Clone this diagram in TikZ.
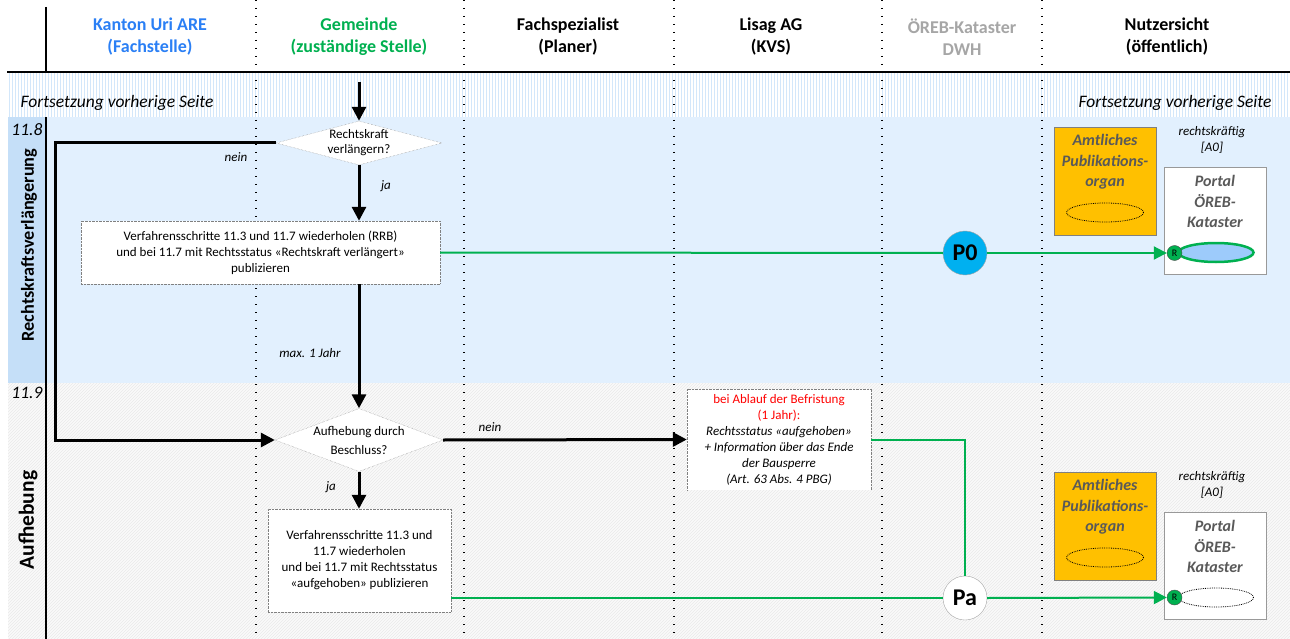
\documentclass[tikz,border=0pt]{standalone}
\usepackage{fontspec}
\setmainfont{Carlito}
\usetikzlibrary{shapes.geometric,arrows.meta,patterns}
\definecolor{kantonblau}{HTML}{2A7FF5}
\definecolor{gemeindegruen}{HTML}{00B050}
\definecolor{dwhgrau}{HTML}{A6A6A6}
\definecolor{laufblau}{HTML}{E2F0FE}
\definecolor{kopfblau}{HTML}{C5DFF8}
\definecolor{streifblau}{HTML}{D3E7FA}
\definecolor{aufgrau}{HTML}{FAFAFA}
\definecolor{schraffgrau}{HTML}{EAEAEA}
\definecolor{pubgruen}{HTML}{00B050}
\definecolor{organorange}{HTML}{FFC000}
\definecolor{pnullblau}{HTML}{00B0F0}
\definecolor{ovalblau}{HTML}{9DCBFB}
\definecolor{portalgrau}{HTML}{595959}
\definecolor{rotschrift}{HTML}{FF0000}

\begin{document}
\begin{tikzpicture}[x=1pt,y=-1pt,
  kopf/.style={font=\fontsize{18}{22}\selectfont\bfseries,align=center},
  bahn/.style={line width=1.3pt,dash pattern=on 1.3pt off 6.7pt},
  ablauf/.style={line width=3pt,-{Triangle[length=14pt,width=14pt]}},
  publik/.style={line width=2pt,draw=pubgruen},
  frage/.style={diamond,draw=gray,densely dotted,fill=white,inner sep=0pt,align=center},
  schritt/.style={draw=gray,densely dotted,fill=white,inner sep=0pt,align=center,font=\fontsize{13}{16}\selectfont},
  klein/.style={font=\fontsize{13}{16}\selectfont\itshape,align=center},
  organ/.style={draw=gray,fill=organorange,minimum width=102pt,minimum height=108pt},
  portal/.style={draw=gray!80,fill=white,minimum width=102pt,minimum height=107pt},
  kastentext/.style={font=\fontsize{16}{20.5}\selectfont\bfseries\itshape,text=portalgrau,align=center},
  punktoval/.style={ellipse,draw,densely dotted,line width=0.8pt,inner sep=0pt},
  rkreis/.style={circle,draw=black!70,fill=pubgruen,minimum size=15pt,inner sep=0pt,font=\fontsize{10}{10}\selectfont},
  pkreis/.style={circle,draw=gray!70,minimum size=44pt,inner sep=0pt,font=\fontsize{24}{24}\selectfont\bfseries},
  fort/.style={font=\fontsize{17.5}{18}\selectfont\itshape}
]
\useasboundingbox (0,0) rectangle (1290,639);
\fill[white] (0,0) rectangle (1290,639);
\fill[pattern=vertical lines,pattern color=streifblau] (8,73) rectangle (1290,117);
\fill[laufblau] (46,117) rectangle (1290,383);
\fill[kopfblau] (8,117) rectangle (46,383);
\fill[aufgrau] (8,383) rectangle (1290,639);
\fill[pattern=north east lines,pattern color=schraffgrau] (8,383) rectangle (1290,639);
\foreach \x in {256,464,674,882,1042}
  \draw[bahn] (\x,0) -- (\x,639);
\draw[line width=2.5pt] (7,72) -- (1290,72);
\draw[line width=1.5pt] (46,7) -- (46,72);
\draw[line width=1.5pt] (46,117) -- (46,639);

\node[kopf,text=kantonblau] (kanton) at (150,37) {Kanton Uri ARE\\(Fachstelle)};
\node[kopf,text=gemeindegruen] (gemeinde) at (359,37) {Gemeinde\\(zuständige Stelle)};
\node[kopf] (fachspez) at (568,37) {Fachspezialist\\(Planer)};
\node[kopf] (lisag) at (771,37) {Lisag AG\\(KVS)};
\node[kopf,text=dwhgrau] (dwh) at (962,37) {ÖREB-Kataster\\DWH};
\node[kopf] (nutzer) at (1167,37) {Nutzersicht\\(öffentlich)};

\node[fort] (fortlinks) at (117,103) {Fortsetzung vorherige Seite};
\node[fort] (fortrechts) at (1175,103) {Fortsetzung vorherige Seite};
\node[fort] (nr118) at (27,130) {11.8};
\node[fort] (nr119) at (27,393) {11.9};
\node[rotate=90,font=\fontsize{18.3}{20}\selectfont\bfseries] (rkv) at (29,245) {Rechtskraftsverlängerung};
\node[rotate=90,font=\fontsize{21.5}{24}\selectfont\bfseries] (aufh) at (28,520) {Aufhebung};

\node[frage,aspect=3.77,minimum width=166pt,minimum height=44pt,font=\fontsize{13}{15}\selectfont] (verl) at (359,143) {Rechtskraft\\verlängern?};
\node[schritt,minimum width=359pt,minimum height=63pt] (rrb) at (260.5,252.5) {Verfahrensschritte 11.3 und 11.7 wiederholen (RRB)\\und bei 11.7 mit Rechtsstatus «Rechtskraft verlängert»\\publizieren};
\node[frage,aspect=2.67,minimum width=168pt,minimum height=63pt,font=\fontsize{13}{19}\selectfont] (beschl) at (359,440) {Aufhebung durch\\Beschluss?};
\node[schritt,draw=none,minimum width=184pt,minimum height=101pt] (ablauf) at (779,439.5) {\textcolor{rotschrift}{bei Ablauf der Befristung}\\\textcolor{rotschrift}{(1 Jahr):}\\\textit{Rechtsstatus «aufgehoben»}\\\textit{+ Information über das Ende}\\\textit{der Bausperre}\\\textit{(Art. 63 Abs. 4 PBG)}};
\draw[gray,densely dotted] (ablauf.south west) -- (ablauf.north west) -- (ablauf.north east) -- (ablauf.south east);
\node[schritt,minimum width=183pt,minimum height=103pt] (aufgeh) at (359.5,560.5) {Verfahrensschritte 11.3 und\\11.7 wiederholen\\und bei 11.7 mit Rechtsstatus\\«aufgehoben» publizieren};

\node[klein] (nein1) at (236,157) {nein};
\node[klein] (ja1) at (386,186) {ja};
\node[klein] (maxjahr) at (310,353) {max. 1 Jahr};
\node[klein] (nein2) at (490,427) {nein};
\node[klein] (ja2) at (331,487) {ja};

\node[pkreis,fill=pnullblau] (pnull) at (965,253) {P0};
\node[pkreis,fill=white] (pa) at (965,598) {Pa};

\node[organ] (organ1) at (1105,181) {};
\node[kastentext] (organtext1) at (1105,162) {Amtliches\\Publikations-\\organ};
\node[punktoval,minimum width=77pt,minimum height=19pt] (organoval1) at (1105,212.5) {};
\node[klein] (rk1) at (1212,140) {rechtskräftig\\{[A0]}};
\node[portal] (portal1) at (1215,220.5) {};
\node[kastentext] (portaltext1) at (1215,201.5) {Portal\\ÖREB-\\Kataster};
\node[ellipse,draw=pubgruen,line width=2.5pt,fill=ovalblau,minimum width=75pt,minimum height=19pt,inner sep=0pt] (oval1) at (1216,252.5) {};
\node[rkreis] (r1) at (1174.5,253) {R};

\node[organ] (organ2) at (1105,526) {};
\node[kastentext] (organtext2) at (1105,507) {Amtliches\\Publikations-\\organ};
\node[punktoval,minimum width=77pt,minimum height=19pt] (organoval2) at (1105,557.5) {};
\node[klein] (rk2) at (1212,485) {rechtskräftig\\{[A0]}};
\node[portal] (portal2) at (1215,565.5) {};
\node[kastentext] (portaltext2) at (1215,546.5) {Portal\\ÖREB-\\Kataster};
\node[punktoval,fill=white,minimum width=75pt,minimum height=19pt] (oval2) at (1216,597.5) {};
\node[rkreis] (r2) at (1174.5,597.5) {R};

\coordinate (start) at (359,82);
\coordinate (schlaufe) at (55,143);
\draw[ablauf] (start) -- (verl.north);
\draw[ablauf] (verl.south) -- (verl.south |- rrb.north);
\draw[ablauf] (verl.south |- rrb.south) -- (beschl.north);
\draw[ablauf] (verl.west) -- (schlaufe) |- (beschl.west);
\draw[ablauf] (beschl.east) -- (ablauf.west);
\draw[ablauf] (beschl.south) -- (beschl.south |- aufgeh.north);

\draw[publik] (rrb.east) -- (pnull.west);
\draw[publik,-{Triangle[length=13pt,width=13pt]}] (pnull.east) -- (r1.west);
\draw[publik] (ablauf.east) -| (pa.north);
\draw[publik] (aufgeh.east |- pa.west) -- (pa.west);
\draw[publik,-{Triangle[length=13pt,width=13pt]}] (pa.east) -- (r2.west);
\end{tikzpicture}
\end{document}
